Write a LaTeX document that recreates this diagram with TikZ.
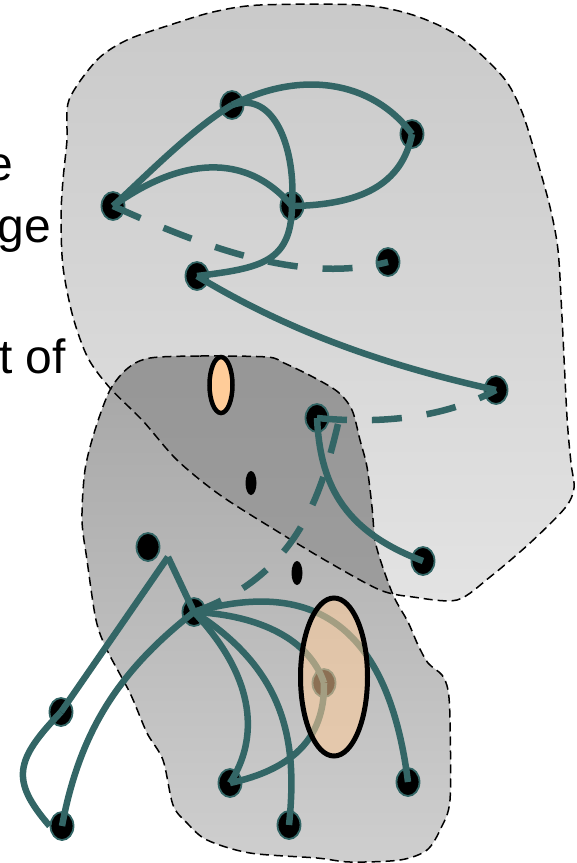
\documentclass[tikz,border=0pt]{standalone}
\usepackage{fontspec}
\setmainfont{Liberation Sans}
\usetikzlibrary{shapes.geometric}
\definecolor{tealc}{HTML}{336666}
\definecolor{peach}{HTML}{FFCC99}
\begin{document}
\begin{tikzpicture}[x=1pt,y=-1pt,
 gnode/.style={ellipse,draw=tealc,fill=black,line width=1.8pt,minimum width=23pt,minimum height=28pt,inner sep=0pt},
 edge/.style={draw=tealc,line width=6.5pt},
 dedge/.style={edge,dash pattern=on 30pt off 25pt},
 region/.style={draw=black,line width=1.5pt,dash pattern=on 9pt off 5pt},
 dot/.style={ellipse,fill=black,minimum width=11pt,minimum height=24pt,inner sep=0pt},
 lbl/.style={font=\fontsize{48}{58}\selectfont,inner sep=0pt,anchor=base east}]
\useasboundingbox (0,0) rectangle (577,863);
\def\bigpath{plot[smooth cycle,tension=0.5] coordinates {(69,100) (97,60) (127,40) (170,25) (213,12) (260,5) (360,5) (413,15) (460,37) (503,77) (522,112) (537,160) (550,207) (558,250) (562,317) (567,417) (571,463) (574,488) (565,508) (530,543) (490,577) (457,600) (413,597) (380,590) (330,563) (280,533) (220,495) (177,460) (143,421) (110,388) (88,358) (73,317) (63,267) (61,217) (63,180) (67,140)}}
\def\lowpath{plot[smooth cycle,tension=0.5] coordinates {(150,358) (200,356) (267,357) (284,363) (313,377) (338,392) (352,410) (360,440) (367,467) (372,507) (375,540) (382,565) (394,597) (408,622) (418,645) (428,663) (442,675) (448,690) (450,720) (450,800) (441,828) (427,850) (400,860) (350,862) (317,858) (250,853) (207,840) (187,823) (173,805) (163,760) (147,733) (130,693) (107,650) (96,620) (87,560) (82,520) (85,470) (95,430) (110,390) (128,368)}}
% regions
\shade[top color=black!21,bottom color=black!11] \bigpath;
\shade[top color=black!35,bottom color=black!19] \lowpath;
\begin{scope}
\clip \bigpath;
\shade[top color=black!41,bottom color=black!36] \lowpath;
\end{scope}
\draw[region] \bigpath;
\draw[region] \lowpath;
% text
\node[lbl] (t1) at (13,180) {e};
\node[lbl] (t2) at (51,242) {ge};
\node[lbl] (t3) at (66,373) {nt of};
% nodes
\node[gnode] (A) at (232,105) {};
\node[gnode] (B) at (412,134) {};
\node[gnode] (C) at (113,206) {};
\node[gnode] (D) at (292,206) {};
\node[gnode] (E) at (388,262) {};
\node[gnode] (F) at (197,276) {};
\node[gnode] (G) at (496,390) {};
\node[gnode] (H) at (317,418) {};
\node[gnode] (I) at (423,561) {};
\node[gnode] (J) at (148,547) {};
\node[gnode] (K) at (194,612) {};
\node[gnode] (L) at (61,712) {};
\node[gnode] (M) at (230,783) {};
\node[gnode] (N) at (408,782) {};
\node[gnode] (O) at (62,826) {};
\node[gnode] (P) at (289,825) {};
\node[gnode] (Q) at (324,683) {};
\coordinate (Jp) at (168,557);
\coordinate (Hk) at (338,424);
% edges top
\draw[edge] (C.center) .. controls (140,182) and (190,130) .. (A.center);
\draw[edge] (A.center) .. controls (300,70) and (372,80) .. (B.center);
\draw[edge] (C.center) .. controls (170,165) and (240,145) .. (D.center);
\draw[edge] (A.center) .. controls (275,90) and (296,150) .. (D.center);
\draw[edge] (D.center) .. controls (360,205) and (402,185) .. (B.center);
\draw[edge] (D.center) .. controls (291,262) and (262,268) .. (F.center);
\draw[edge] (F.center) .. controls (270,320) and (360,360) .. (G.center);
\draw[dedge] (C.center) .. controls (200,245) and (300,285) .. (E.center);
% edges middle
\draw[dedge] (H.center) .. controls (390,425) and (450,415) .. (G.center);
\draw[edge] (H.center) .. controls (320,480) and (340,530) .. (I.center);
\draw[dedge] (Hk) .. controls (322,490) and (300,575) .. (K.center);
% edges bottom
\draw[edge] (Jp) -- (K.center);
\draw[edge] (Jp) -- (L.center);
\draw[edge] (L.center) .. controls (15,760) and (10,780) .. (O.west);
\draw[edge] (K.center) .. controls (120,670) and (80,730) .. (O.center);
\draw[edge] (K.center) .. controls (258,680) and (258,740) .. (M.center);
\draw[edge] (K.center) .. controls (285,670) and (298,740) .. (P.center);
\draw[edge] (K.center) .. controls (290,585) and (385,600) .. (N.center);
\draw[edge] (K.center) .. controls (260,615) and (310,640) .. (Q.center);
\draw[edge] (Q.center) .. controls (325,740) and (290,770) .. (M.center);
% small marks
\node[dot] (d1) at (251,483) {};
\node[dot] (d2) at (297,573) {};
\node[ellipse,draw=black,fill=peach,line width=4.5pt,minimum width=23pt,minimum height=56pt,inner sep=0pt] (o1) at (221,385) {};
\node[ellipse,draw=black,fill=peach,fill opacity=0.55,line width=5pt,minimum width=67pt,minimum height=158pt,inner sep=0pt] (o2) at (334,677) {};
\end{tikzpicture}
\end{document}
